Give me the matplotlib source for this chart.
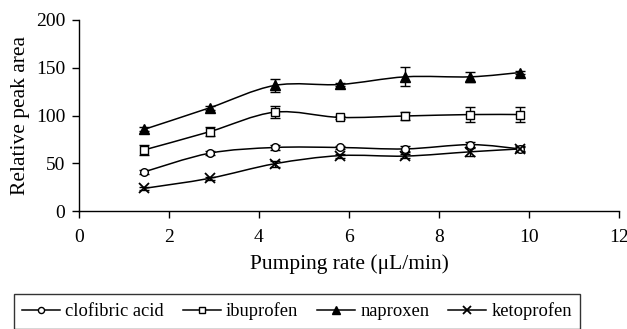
"""Relative peak area vs pumping rate, four drugs with error bars."""

import matplotlib

matplotlib.use("Agg")
import matplotlib.pyplot as plt
import numpy as np
from matplotlib.lines import Line2D
from matplotlib.patches import PathPatch
from matplotlib.path import Path

plt.rcParams["font.family"] = ["Liberation Serif", "DejaVu Serif"]

# ---- data ----
pump_rate = [1.45, 2.9, 4.35, 5.8, 7.25, 8.7, 9.8]

clofibric = [41, 60.5, 66.5, 66.5, 65, 69.5, 65]
clofibric_err = [2, 2, 2.5, 2, 3, 3, 2]
ibuprofen = [64, 83, 103.5, 98, 99.5, 101, 101]
ibuprofen_err = [5, 4.5, 6, 2, 4.5, 7.5, 8]
naproxen = [85.5, 108, 131.5, 132.5, 140.5, 140.5, 145]
naproxen_err = [2, 2, 6.5, 2, 10, 5, 2]
ketoprofen = [23.7, 34.2, 49.5, 58, 57.5, 62, 65]
ketoprofen_err = [1.5, 1.5, 3, 2, 2, 4, 3]


def smooth_path(xs, ys):
    """Catmull-Rom 风格的三次贝塞尔平滑（模仿 Excel 的平滑线）。"""
    pts = np.column_stack([xs, ys]).astype(float)
    n = len(pts)
    verts = [pts[0]]
    codes = [Path.MOVETO]
    for i in range(n - 1):
        p0 = pts[i - 1] if i > 0 else pts[i]
        p1, p2 = pts[i], pts[i + 1]
        p3 = pts[i + 2] if i + 2 < n else pts[i + 1]
        c1 = p1 + (p2 - p0) / 6.0
        c2 = p2 - (p3 - p1) / 6.0
        verts += [c1, c2, p2]
        codes += [Path.CURVE4] * 3
    return Path(verts, codes)


series = [
    ("clofibric acid", clofibric, clofibric_err, dict(marker="o", ms=5.5, mfc="white")),
    ("ibuprofen", ibuprofen, ibuprofen_err, dict(marker="s", ms=6, mfc="white")),
    ("naproxen", naproxen, naproxen_err, dict(marker="^", ms=7, mfc="black")),
    ("ketoprofen", ketoprofen, ketoprofen_err, dict(marker="x", ms=6.5, mew=1.3)),
]

fig = plt.figure(figsize=(6.27, 3.29), dpi=100)
ax = fig.add_axes([79 / 627, 1 - 211 / 329, 540 / 627, 191 / 329])

handles = []
for name, vals, errs, style in series:
    ax.add_patch(PathPatch(smooth_path(pump_rate, vals), fill=False,
                           edgecolor="black", lw=1.1, zorder=2))
    ax.errorbar(pump_rate, vals, yerr=errs, fmt="none", ecolor="black",
                elinewidth=1.0, capsize=3.5, capthick=1.0, zorder=3)
    ax.plot(pump_rate, vals, ls="none", color="black", mec="black", zorder=4, **style)
    handles.append(Line2D([], [], color="black", lw=1.1, mec="black",
                          **{**style, "ms": style["ms"] * 0.8}))

ax.set_xlim(0, 12)
ax.set_ylim(0, 200)
ax.set_xticks(range(0, 13, 2))
ax.set_yticks(range(0, 201, 50))
for side in ("top", "right"):
    ax.spines[side].set_visible(False)
for side in ("left", "bottom"):
    ax.spines[side].set_linewidth(1.0)
ax.tick_params(direction="out", length=5, width=1.0, labelsize=14, pad=8)
ax.tick_params(axis="y", pad=5)
ax.set_xlabel("Pumping rate (\u03bcL/min)", fontsize=15.5, labelpad=6)
ax.set_ylabel("Relative peak area", fontsize=15.5, labelpad=4)

fig.legend(handles, [s[0] for s in series], ncol=4, loc="upper left",
           bbox_to_anchor=(14 / 627, 1 - 294 / 329),
           fontsize=13.3, frameon=True, fancybox=False, edgecolor="black",
           handlelength=2.05, handletextpad=0.28, borderaxespad=0, borderpad=0.45,
           columnspacing=1.03)

fig.savefig("out.png", dpi=100)
plt.close(fig)
